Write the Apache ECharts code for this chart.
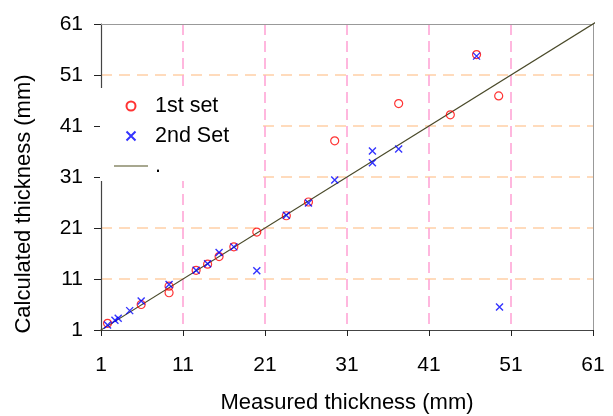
<!DOCTYPE html>
<html>
<head>
<meta charset="utf-8">
<script src="https://cdn.jsdelivr.net/npm/echarts@6/dist/echarts.min.js"></script>
<style>html,body{margin:0;padding:0;background:#fff}#c{width:613px;height:416px}</style>
</head>
<body>
<div id="c"></div>
<script>
// Data
const set1Name = '1st set';
const set2Name = '2nd Set';
const lineName = '.';
const set1 = [[1.8,2.3],[5.9,6.0],[9.3,8.3],[9.3,9.6],[12.6,12.7],[14.0,13.9],[15.4,15.4],[17.2,17.3],[20.0,20.2],[23.6,23.4],[26.3,26.1],[29.5,38.1],[37.3,45.4],[43.6,43.2],[46.8,55.0],[49.5,46.9]];
const set2 = [[1.8,2.0],[2.7,2.9],[3.1,3.3],[4.5,4.8],[5.9,6.7],[9.3,9.9],[12.6,12.7],[14.0,14.0],[15.4,16.2],[17.2,17.3],[20.0,12.6],[23.6,23.5],[26.3,25.9],[29.5,30.4],[34.1,36.1],[34.1,33.8],[37.3,36.5],[46.8,54.7],[49.6,5.5]];
const idealLine = [[0.3,0.3],[61.5,61.5]];
const axisMin = 1, axisMax = 61, axisStep = 10;
const xTitle = 'Measured thickness (mm)';
const yTitle = 'Calculated thickness (mm)';

const font = 'Arial, "Liberation Sans", sans-serif';
const chart = echarts.init(document.getElementById('c'));
chart.setOption({
  backgroundColor: '#fff',
  animation: false,
  grid: {left: 101, right: 20, top: 24, bottom: 86, show: false, outerBoundsMode: 'none', containLabel: false},
  legend: {
    orient: 'vertical', left: 100, top: 88,
    padding: [7, 30, 4, 14],
    backgroundColor: '#fff',
    itemWidth: 34, itemHeight: 9, itemGap: 8,
    textStyle: {fontFamily: font, fontSize: 21.5, color: '#000', lineHeight: 22, padding: [0, 0, 0, 2]},
    data: [
      {name: set1Name},
      {name: set2Name},
      {name: lineName, icon: 'path://M0,0L34,0L34,1.6L0,1.6Z', itemStyle: {color: '#8a8a6a'}}
    ]
  },
  xAxis: [{
    type: 'value', min: axisMin, max: axisMax, interval: axisStep,
    name: xTitle, nameLocation: 'middle', nameGap: 62,
    nameTextStyle: {fontFamily: font, fontSize: 22, color: '#000'},
    axisLine: {lineStyle: {color: '#444', width: 1.2}},
    axisTick: {show: true, length: 6, lineStyle: {color: '#222'}},
    axisLabel: {fontFamily: font, fontSize: 21, color: '#000', margin: 25},
    splitLine: {show: true, showMinLine: false, showMaxLine: false, lineStyle: {color: '#ffa6d6', type: [11, 6], width: 1.6}}
  }, {
    type: 'value', position: 'top', min: axisMin, max: axisMax, interval: axisStep,
    axisLine: {show: true, lineStyle: {color: '#999', width: 1}},
    axisTick: {show: false}, axisLabel: {show: false}, splitLine: {show: false}
  }],
  yAxis: [{
    type: 'value', min: axisMin, max: axisMax, interval: axisStep,
    name: yTitle, nameLocation: 'middle', nameGap: 66,
    nameTextStyle: {fontFamily: font, fontSize: 22, color: '#000', padding: [0, 54, 0, 0]},
    axisLine: {show: true, lineStyle: {color: '#444', width: 1.2}},
    axisTick: {show: true, length: 7, lineStyle: {color: '#222'}},
    axisLabel: {fontFamily: font, fontSize: 21, color: '#000', margin: 18},
    splitLine: {show: true, showMinLine: false, showMaxLine: false, lineStyle: {color: '#ffd0a6', type: [11, 7], width: 1.6}}
  }, {
    type: 'value', position: 'right', min: axisMin, max: axisMax, interval: axisStep,
    axisLine: {show: true, lineStyle: {color: '#999', width: 1}},
    axisTick: {show: false}, axisLabel: {show: false}, splitLine: {show: false}
  }],
  series: [{
    name: lineName, type: 'line', data: idealLine, symbol: 'none', clip: false,
    lineStyle: {color: '#4a4a2a', width: 1.2}, itemStyle: {color: '#8a8a6a'}, z: 3
  }, {
    name: set1Name, type: 'scatter', data: set1, symbol: 'circle', symbolSize: 8,
    itemStyle: {color: 'none', borderColor: '#ff0000', borderWidth: 1.2}, z: 4
  }, {
    name: set2Name, type: 'scatter', data: set2,
    symbol: 'path://M0,0L10,10M0,10L10,0', symbolSize: 7,
    itemStyle: {color: 'none', borderColor: '#0000ff', borderWidth: 1.4}, z: 5
  }]
});
</script>
</body>
</html>
